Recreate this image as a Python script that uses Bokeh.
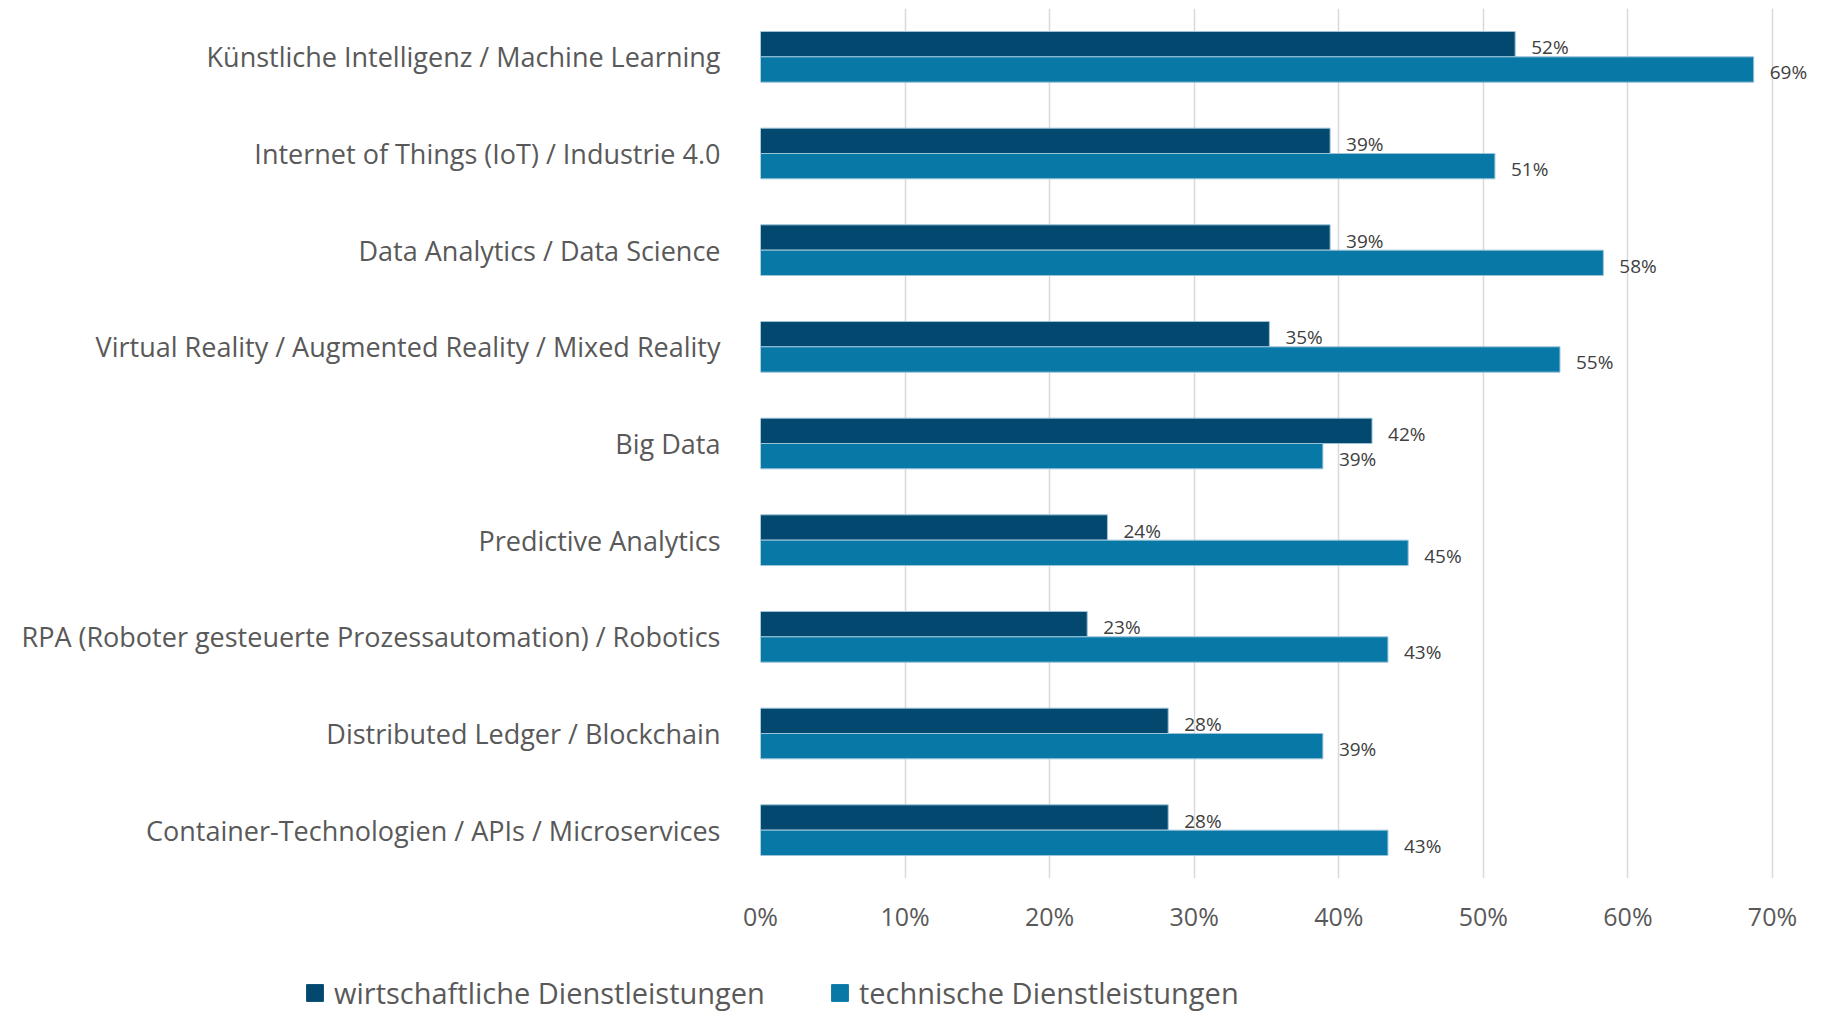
from bokeh.plotting import figure
from bokeh.layouts import column
from bokeh.models import (FactorRange, Range1d, FixedTicker, ColumnDataSource,
                          LabelSet, Legend, LegendItem)
from bokeh.core.properties import value
from bokeh.transform import dodge
from bokeh.embed import file_html
from bokeh.resources import INLINE

categories = [
    "Künstliche Intelligenz / Machine Learning",
    "Internet of Things (IoT) / Industrie 4.0",
    "Data Analytics / Data Science",
    "Virtual Reality / Augmented Reality / Mixed Reality",
    "Big Data",
    "Predictive Analytics",
    "RPA (Roboter gesteuerte Prozessautomation) / Robotics",
    "Distributed Ledger / Blockchain",
    "Container-Technologien / APIs / Microservices",
]
wirtschaftliche = [52.2, 39.4, 39.4, 35.2, 42.3, 24.0, 22.6, 28.2, 28.2]
technische = [68.7, 50.8, 58.3, 55.3, 38.9, 44.8, 43.4, 38.9, 43.4]
series_names = ["wirtschaftliche Dienstleistungen", "technische Dienstleistungen"]
x_ticks = [0, 10, 20, 30, 40, 50, 60, 70]
x_tick_labels = ["0%", "10%", "20%", "30%", "40%", "50%", "60%", "70%"]

DARK = "#03496F"
LIGHT = "#0879A6"
EDGE = "#9CC3D8"
FONT = "Open Sans"

src = ColumnDataSource(dict(
    cat=categories,
    w=wirtschaftliche,
    t=technische,
    wl=[f"{round(v)}%" for v in wirtschaftliche],
    tl=[f"{round(v)}%" for v in technische],
))

# frame: left 760, right (70%) 1772 -> extend frame to the right edge
px_per_unit = 1012 / 70.0
x_end = 70 + (1828 - 1772) / px_per_unit

MAIN_H = 965
p = figure(width=1828, height=MAIN_H,
           y_range=FactorRange(factors=categories[::-1]),
           x_range=Range1d(0, x_end),
           output_backend="svg", toolbar_location=None,
           min_border_left=760, min_border_right=0,
           min_border_top=8, min_border_bottom=MAIN_H - 878)
p.outline_line_color = None
p.frame_align = False

BH = 0.262
OFF = 0.131
p.hbar(y=dodge("cat", OFF, range=p.y_range), right="w", left=0, height=BH,
       source=src, fill_color=DARK, line_color=EDGE, line_width=1)
p.hbar(y=dodge("cat", -OFF, range=p.y_range), right="t", left=0, height=BH,
       source=src, fill_color=LIGHT, line_color=EDGE, line_width=1)

for fld, lab, off in (("w", "wl", OFF), ("t", "tl", -OFF)):
    ls = LabelSet(x=fld, y=dodge("cat", off, range=p.y_range), text=lab, source=src,
                  x_offset=16, y_offset=-3, text_baseline="middle", text_align="left",
                  text_font=value(FONT), text_font_size=value("19px"),
                  text_color="#404040")
    p.add_layout(ls)

# axes
p.xaxis.ticker = FixedTicker(ticks=x_ticks)
p.xaxis.major_label_overrides = {t: l for t, l in zip(x_ticks, x_tick_labels)}
p.xaxis.axis_line_color = None
p.xaxis.major_tick_line_color = None
p.xaxis.minor_tick_line_color = None
p.xaxis.major_tick_in = 0
p.xaxis.major_tick_out = 0
p.xaxis.major_label_standoff = 20
p.xaxis.major_label_text_font = FONT
p.xaxis.major_label_text_font_size = "25px"
p.xaxis.major_label_text_color = "#595959"

p.yaxis.axis_line_color = None
p.yaxis.major_tick_line_color = None
p.yaxis.major_tick_in = 0
p.yaxis.major_tick_out = 0
p.yaxis.major_label_standoff = 40
p.yaxis.major_label_text_font = FONT
p.yaxis.major_label_text_font_size = "27px"
p.yaxis.major_label_text_color = "#595959"

p.ygrid.grid_line_color = None
p.xgrid.grid_line_color = "#D9D9D9"
p.xgrid.grid_line_width = 1.5

# legend strip
LEG_H = 1013 - MAIN_H
lg = figure(width=1828, height=LEG_H, x_range=Range1d(0, 1), y_range=Range1d(0, 1),
            output_backend="svg", toolbar_location=None,
            min_border_left=0, min_border_right=0, min_border_top=0, min_border_bottom=0)
lg.frame_align = False
lg.axis.visible = False
lg.grid.visible = False
lg.outline_line_color = None
hidden = ColumnDataSource(dict(y=[float("nan")], r=[float("nan")]))
l1 = lg.hbar(y="y", right="r", height=0.5, source=hidden, fill_color=DARK, line_color=DARK)
l2 = lg.hbar(y="y", right="r", height=0.5, source=hidden, fill_color=LIGHT, line_color=LIGHT)

legend = Legend(items=[LegendItem(label=series_names[0], renderers=[l1]),
                       LegendItem(label=series_names[1], renderers=[l2])],
                orientation="horizontal", location=(304, 1),
                glyph_width=21, glyph_height=21, label_standoff=9, spacing=64,
                padding=0, margin=0, border_line_color=None,
                background_fill_alpha=0,
                label_text_font=FONT, label_text_font_size="29px",
                label_text_color="#595959")
lg.add_layout(legend, "center")

layout = column(p, lg, spacing=0)
open("out.html", "w").write(file_html(layout, INLINE))
